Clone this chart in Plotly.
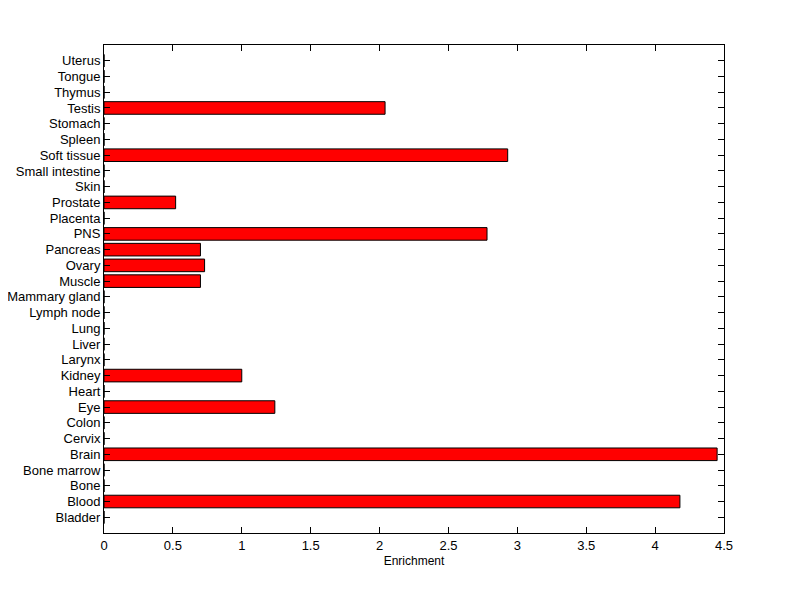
import plotly.graph_objects as go

categories = ["Bladder", "Blood", "Bone", "Bone marrow", "Brain", "Cervix", "Colon", "Eye",
              "Heart", "Kidney", "Larynx", "Liver", "Lung", "Lymph node", "Mammary gland",
              "Muscle", "Ovary", "Pancreas", "PNS", "Placenta", "Prostate", "Skin",
              "Small intestine", "Soft tissue", "Spleen", "Stomach", "Testis", "Thymus",
              "Tongue", "Uterus"]
enrichment = [0, 4.18, 0, 0, 4.45, 0, 0, 1.24,
              0, 1.0, 0, 0, 0, 0, 0,
              0.70, 0.73, 0.70, 2.78, 0, 0.52, 0,
              0, 2.93, 0, 0, 2.04, 0,
              0, 0]
x_ticks = [0, 0.5, 1, 1.5, 2, 2.5, 3, 3.5, 4, 4.5]
x_tick_labels = ["0", "0.5", "1", "1.5", "2", "2.5", "3", "3.5", "4", "4.5"]

positions = list(range(1, len(categories) + 1))

fig = go.Figure(go.Bar(
    x=enrichment, y=positions, orientation="h", width=0.8,
    marker=dict(color="#ff0000", line=dict(color="black", width=1)),
))

font = dict(family="Liberation Sans, Arial, sans-serif", size=13, color="black")
fig.update_layout(
    width=792, height=591,
    margin=dict(l=96, r=76, t=37, b=66),
    paper_bgcolor="white", plot_bgcolor="white",
    font=font, showlegend=False, bargap=0.2,
    xaxis=dict(range=[0, 4.5], tickvals=x_ticks, ticktext=x_tick_labels,
               ticks="inside", ticklen=6, tickcolor="black", showline=True,
               linecolor="black", linewidth=1, mirror="ticks", showgrid=False,
               zeroline=False, automargin=False,
               title=dict(text="Enrichment", standoff=5, font=dict(size=12))),
    yaxis=dict(range=[0, len(categories) + 1], tickvals=positions, ticktext=categories,
               ticks="inside", ticklen=6, tickcolor="black", showline=True,
               linecolor="black", linewidth=1, mirror="ticks", showgrid=False,
               zeroline=False, automargin=False),
)
fig.write_html("out.html")
